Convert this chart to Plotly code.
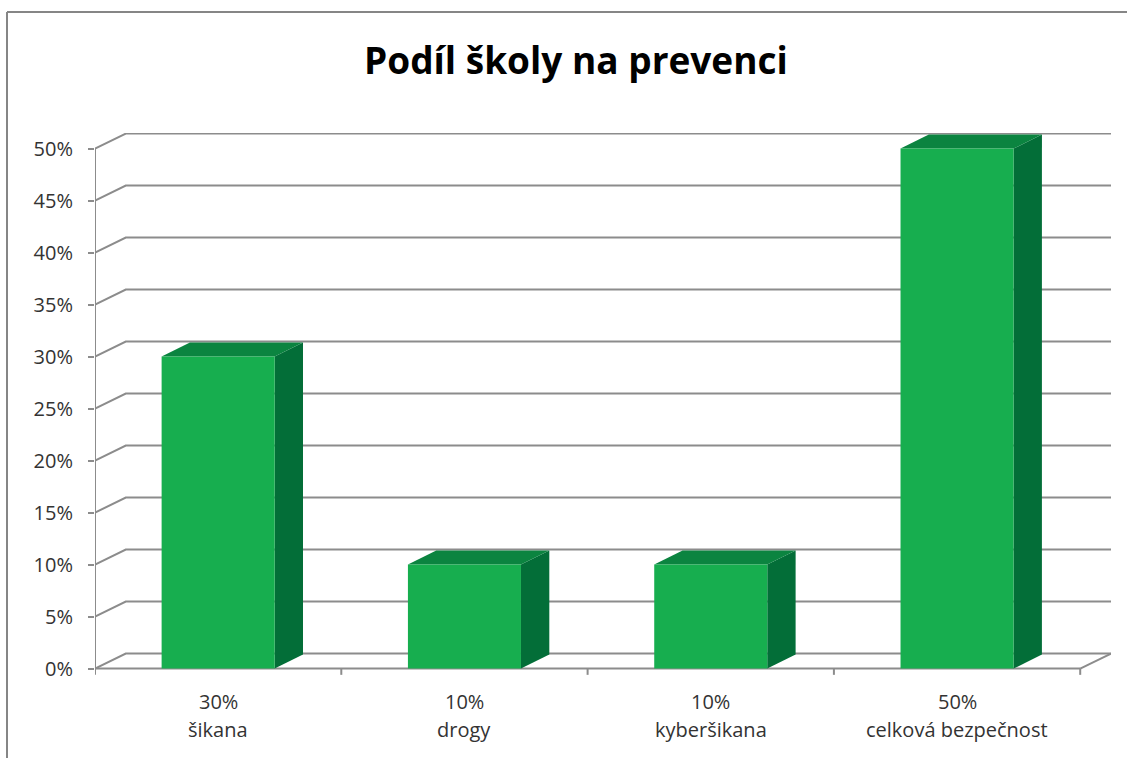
import plotly.graph_objects as go

categories = ["šikana", "drogy", "kyberšikana", "celková bezpečnost"]
values = [30, 10, 10, 50]
y_ticks = [0, 5, 10, 15, 20, 25, 30, 35, 40, 45, 50]
title_text = "Podíl školy na prevenci"

# 3D geometry (data units)
GDX, GDY = 0.125, 1.44      # depth offset of the back wall
BDX, BDY = 0.115, 1.35      # depth offset of the bars
HALF = 0.2295               # half width of bar front face
GRID = "#8C8C8C"
FRONT, TOP, SIDE = "#17AE4F", "#0B8440", "#036E38"
FONT = "'Open Sans', Lato, sans-serif"
TXT = "#333333"

n = len(categories)
xl, xr = -0.5, n - 0.5

fig = go.Figure()

# gridlines: diagonal from front axis to back wall then horizontal along back
for v in y_ticks:
    fig.add_trace(go.Scatter(
        x=[xl, xl + GDX, xr + GDX], y=[v, v + GDY, v + GDY],
        mode="lines", line=dict(color=GRID, width=2), hoverinfo="skip", showlegend=False))
# floor right edge
fig.add_trace(go.Scatter(x=[xr, xr + GDX], y=[0, GDY], mode="lines",
                         line=dict(color=GRID, width=2), hoverinfo="skip", showlegend=False))
# front axes
fig.add_trace(go.Scatter(x=[xl, xr], y=[0, 0], mode="lines",
                         line=dict(color=GRID, width=2), hoverinfo="skip", showlegend=False))
fig.add_trace(go.Scatter(x=[xl, xl], y=[0, max(y_ticks)], mode="lines",
                         line=dict(color=GRID, width=2), hoverinfo="skip", showlegend=False))
# category tick marks
for i in range(n + 1):
    fig.add_trace(go.Scatter(x=[xl + i, xl + i], y=[0, -0.6], mode="lines",
                             line=dict(color=GRID, width=2), hoverinfo="skip", showlegend=False))

# bars as 3D boxes
for i, v in enumerate(values):
    x0, x1 = i - HALF, i + HALF
    fig.add_trace(go.Scatter(
        x=[x1, x1 + BDX, x1 + BDX, x1, x1], y=[0, BDY, v + BDY, v, 0],
        mode="lines", fill="toself", fillcolor=SIDE, line=dict(width=0, color=SIDE),
        hoverinfo="skip", showlegend=False))
    fig.add_trace(go.Scatter(
        x=[x0, x1, x1 + BDX, x0 + BDX, x0], y=[v, v, v + BDY, v + BDY, v],
        mode="lines", fill="toself", fillcolor=TOP, line=dict(width=0, color=TOP),
        hoverinfo="skip", showlegend=False))
    fig.add_trace(go.Scatter(
        x=[x0, x1, x1, x0, x0], y=[0, 0, v, v, 0],
        mode="lines", fill="toself", fillcolor=FRONT, line=dict(width=0, color=FRONT),
        hoverinfo="text", text=f"{categories[i]}: {v}%", showlegend=False))

L, R, T, B = 95, 16, 133, 79
W, H = 1127, 758
pw, ph = W - L - R, H - T - B
px = lambda p: (p - L) / pw
py = lambda p: (H - B - p) / ph

# category labels (value + name)
annotations = []
for i, (c, v) in enumerate(zip(categories, values)):
    annotations.append(dict(x=i, y=py(701), xref="x", yref="paper", text=f"{v}%", showarrow=False,
                            font=dict(family=FONT, size=20, color=TXT), yanchor="middle"))
    annotations.append(dict(x=i, y=py(729), xref="x", yref="paper", text=c, showarrow=False,
                            font=dict(family=FONT, size=20, color=TXT), yanchor="middle"))

shapes = [
    dict(type="line", xref="paper", yref="paper", x0=px(7), x1=px(1140), y0=py(12), y1=py(12),
         line=dict(color="#868686", width=2)),
    dict(type="line", xref="paper", yref="paper", x0=px(7), x1=px(7), y0=py(12), y1=py(780),
         line=dict(color="#868686", width=2)),
]

annotations.append(dict(x=px(576), y=py(59), xref="paper", yref="paper", text=f"<b>{title_text}</b>",
                        showarrow=False, font=dict(family=FONT, size=37, color="#000000"),
                        xanchor="center", yanchor="middle"))

fig.update_layout(
    width=W, height=H,
    margin=dict(l=L, r=R, t=T, b=B, pad=0),
    paper_bgcolor="white", plot_bgcolor="white",
    xaxis=dict(range=[xl, xr + GDX], showgrid=False, zeroline=False, showticklabels=False,
               showline=False, ticks="", fixedrange=True),
    yaxis=dict(range=[-1, 51.5], tickvals=y_ticks, ticktext=[f"{t}%" for t in y_ticks],
               showgrid=False, zeroline=False, showline=False, ticks="outside", ticklen=6,
               tickcolor=GRID, tickwidth=2, ticklabelstandoff=11,
               tickfont=dict(family=FONT, size=20, color=TXT), fixedrange=True),
    annotations=annotations, shapes=shapes,
)

fig.write_html("out.html", config={"displayModeBar": False},
               post_script="document.body.style.margin='0';document.body.style.overflow='hidden';")
